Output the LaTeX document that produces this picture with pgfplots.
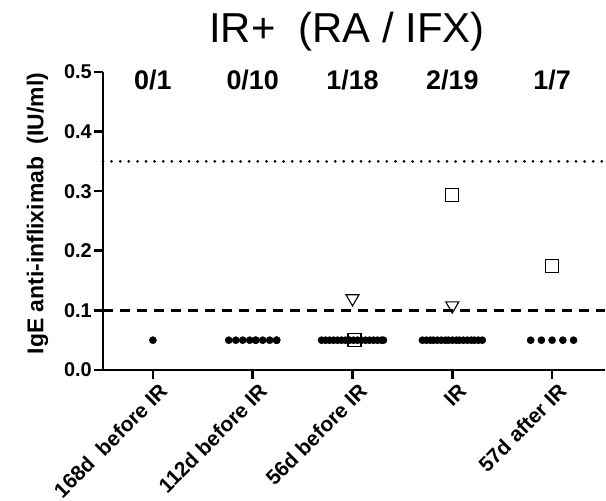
\documentclass[border=0pt]{standalone}
\usepackage{fontspec}
\setmainfont{Liberation Sans}
\usepackage{pgfplots}
\pgfplotsset{compat=1.18}

\begin{document}
\begin{tikzpicture}[x=1bp,y=1bp]
\path[use as bounding box] (-103,-131) rectangle (503,370);
\begin{axis}[
  at={(0,0)}, anchor=south west,
  scale only axis, width=502bp, height=298bp,
  xmin=-0.5, xmax=4.53, ymin=0, ymax=0.5,
  axis x line=bottom, axis y line=left,
  axis line style={line width=2.6bp, -},
  xtick={0,1,2,3,4},
  xticklabels={168d\ \ before IR, 112d before IR, 56d before IR, IR, 57d after IR},
  ytick={0,0.1,0.2,0.3,0.4,0.5},
  tick align=outside,
  major tick length=9bp,
  every tick/.style={line width=2.6bp, black},
  yticklabel style={font=\bfseries\fontsize{20}{20}\selectfont, inner sep=2bp,
    /pgf/number format/fixed, /pgf/number format/fixed zerofill,
    /pgf/number format/precision=1, /pgf/number format/assume math mode=true},
  xticklabel style={font=\bfseries\fontsize{21}{21}\selectfont, anchor=north east, inner sep=0pt, xshift=5bp, yshift=-3bp, rotate=45},
  clip=false,
]
% reference levels
\addplot[black, line width=2.6bp, dash pattern=on 10bp off 7bp] coordinates {(-0.5,0.1) (4.53,0.1)};
\addplot[black, line width=3bp, line cap=round, dash pattern=on 0bp off 8.6bp] coordinates {(-0.5,0.35) (4.53,0.35)};

% negative samples (set to 0.05)
\addplot[only marks, mark=*, mark size=3.6bp, black] coordinates {
  (0,0.05)
  (0.76,0.05) (0.83,0.05) (0.90,0.05) (0.97,0.05) (1.03,0.05) (1.03,0.05) (1.10,0.05) (1.17,0.05) (1.24,0.05) (1.24,0.05)
  (1.69,0.05) (1.73,0.05) (1.77,0.05) (1.81,0.05) (1.85,0.05) (1.89,0.05) (1.93,0.05) (1.97,0.05) (2.01,0.05)
  (2.05,0.05) (2.09,0.05) (2.13,0.05) (2.17,0.05) (2.21,0.05) (2.25,0.05) (2.29,0.05) (2.31,0.05)
  (2.70,0.05) (2.74,0.05) (2.78,0.05) (2.81,0.05) (2.85,0.05) (2.89,0.05) (2.93,0.05) (2.96,0.05) (3.00,0.05)
  (3.04,0.05) (3.07,0.05) (3.11,0.05) (3.15,0.05) (3.19,0.05) (3.22,0.05) (3.26,0.05) (3.30,0.05)
  (3.785,0.05) (3.8925,0.05) (4.00,0.05) (4.1075,0.05) (4.215,0.05)
};
% patient A
\addplot[only marks, mark=square, mark size=6.5bp, line width=1.1bp, black, mark options={fill=white}] coordinates {
  (2.02,0.05) (3.0,0.294) (4.0,0.175)
};
% patient B
\addplot[only marks, mark=triangle, mark size=7.5bp, line width=1.1bp, black, mark options={fill=white, rotate=180}] coordinates {
  (2.0,0.12) (3.0,0.108)
};

% positive / total per time point
\foreach \i/\t in {0/0\slash 1, 1/0\slash 10, 2/1\slash 18, 3/2\slash 19, 4/1\slash 7} {
  \edef\tmp{\noexpand\node[anchor=base, inner sep=0pt, font=\noexpand\bfseries\noexpand\fontsize{27}{27}\noexpand\selectfont] at (axis cs:\i,0.47) {\t};}
  \tmp
}
\end{axis}
\node[font=\fontsize{42}{42}\selectfont] at (244,338) {IR+\ \ (RA / IFX)};
\node[rotate=90, font=\bfseries\fontsize{23}{23}\selectfont] at (-65.5,156.5) {IgE anti-infliximab\ \ (IU/ml)};
\end{tikzpicture}
\end{document}
